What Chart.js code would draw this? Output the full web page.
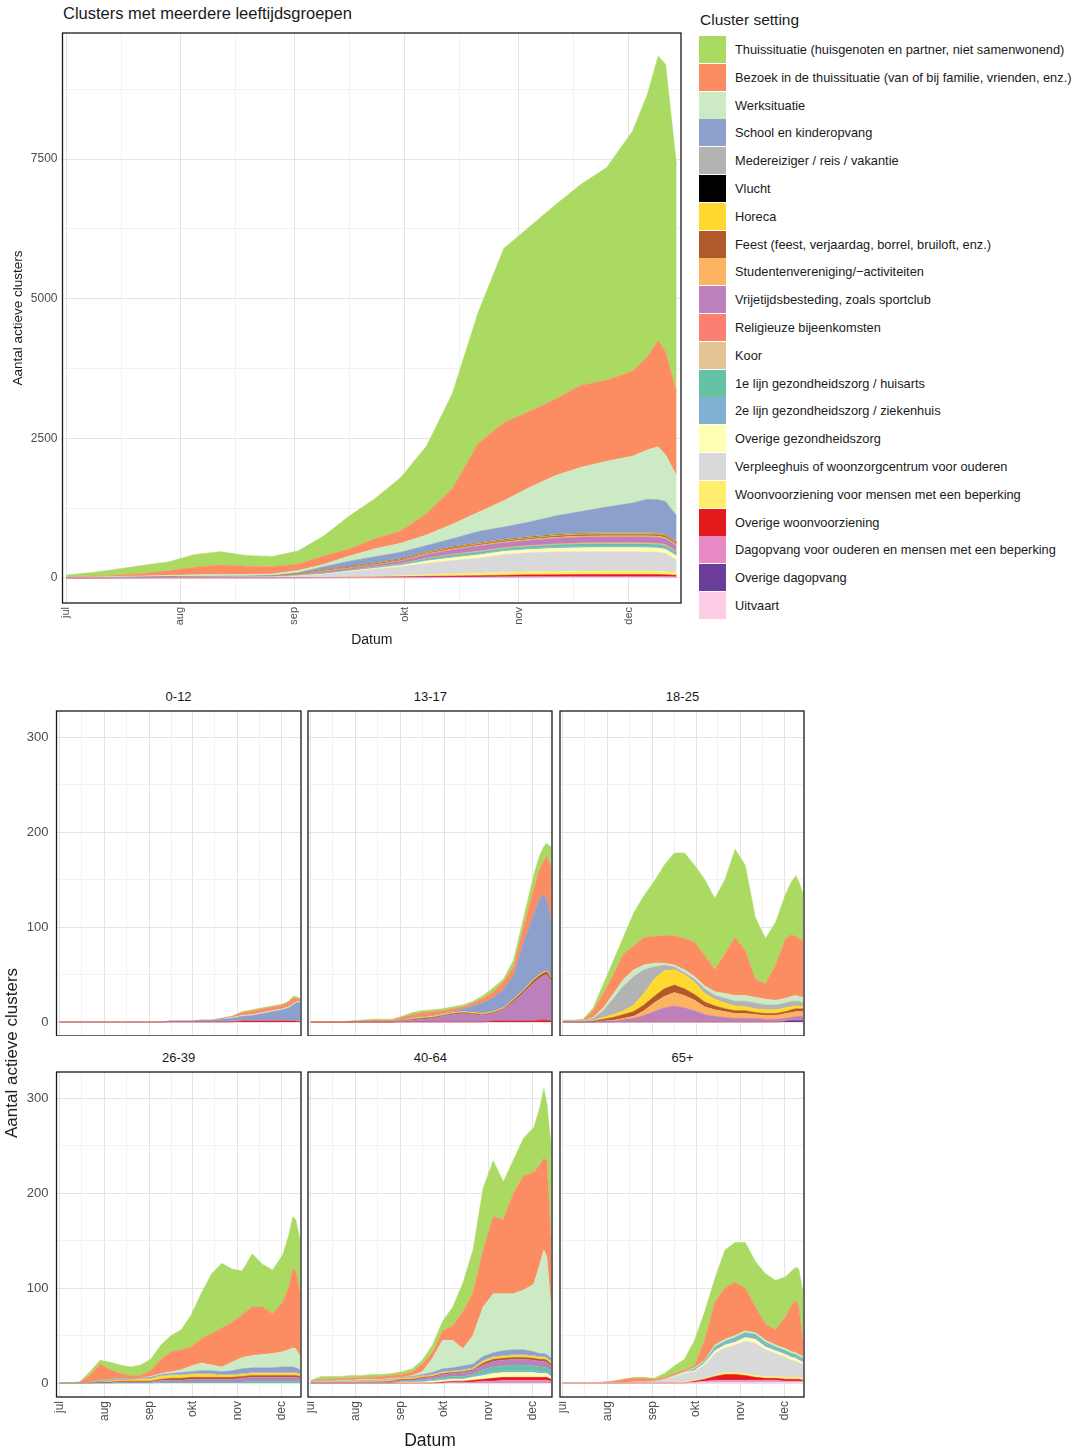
<!DOCTYPE html>
<html lang="nl">
<head>
<meta charset="utf-8">
<title>Clusters met meerdere leeftijdsgroepen</title>
<script src="https://cdn.jsdelivr.net/npm/chart.js@4.4.1/dist/chart.umd.min.js"></script>
<style>
html,body{margin:0;padding:0;background:#fff;}
body{width:1077px;height:1449px;position:relative;overflow:hidden;font-family:"Liberation Sans",Arial,sans-serif;color:#1a1a1a;}
.box{position:absolute;}
#title{position:absolute;left:63px;top:4px;font-size:16.5px;white-space:nowrap;}
#legTitle{position:absolute;left:700px;top:11px;font-size:15.5px;white-space:nowrap;}
.legItem{position:absolute;left:699px;height:27px;display:flex;align-items:center;white-space:nowrap;font-size:12.8px;}
.legKey{width:27px;height:27px;margin-right:9px;flex:none;}
.strip{position:absolute;font-size:13px;text-align:center;white-space:nowrap;}
.lbl{position:absolute;white-space:nowrap;font-size:17px;}
</style>
</head>
<body>
<div id="title">Clusters met meerdere leeftijdsgroepen</div>
<div id="legTitle">Cluster setting</div>
<div id="legend"></div>
<div id="panels"></div>
<div class="lbl" id="yTitle2" style="left:12px;top:1053px;transform:translate(-50%,-50%) rotate(-90deg);">Aantal actieve clusters</div>
<div class="lbl" style="left:430px;top:1440px;transform:translate(-50%,-50%);font-size:17.5px;">Datum</div>
<script>
// ---------------- DATA ----------------
// day offsets from 1 July
const days = [0,7,14,21,28,35,42,49,56,63,70,77,84,91,98,105,112,119,126,133,140,147,154,158,161,163,166];
const monthTicks = [0,31,62,92,123,153];
const monthLabels = ['jul','aug','sep','okt','nov','dec'];
const midMonthTicks = [15,46,77,107,138];
const yTicksTop = [0,2500,5000,7500];
const yMinorTop = [1250,3750,6250,8750];
const yTicksPanel = [0,100,200,300];
const yMinorPanel = [50,150,250];
const ageGroups = ['0-12','13-17','18-25','26-39','40-64','65+'];

const settingNames = [
  'Thuissituatie (huisgenoten en partner, niet samenwonend)',
  'Bezoek in de thuissituatie (van of bij familie, vrienden, enz.)',
  'Werksituatie',
  'School en kinderopvang',
  'Medereiziger / reis / vakantie',
  'Vlucht',
  'Horeca',
  'Feest (feest, verjaardag, borrel, bruiloft, enz.)',
  'Studentenvereniging/\u2212activiteiten',
  'Vrijetijdsbesteding, zoals sportclub',
  'Religieuze bijeenkomsten',
  'Koor',
  '1e lijn gezondheidszorg / huisarts',
  '2e lijn gezondheidszorg / ziekenhuis',
  'Overige gezondheidszorg',
  'Verpleeghuis of woonzorgcentrum voor ouderen',
  'Woonvoorziening voor mensen met een beperking',
  'Overige woonvoorziening',
  'Dagopvang voor ouderen en mensen met een beperking',
  'Overige dagopvang',
  'Uitvaart'
];
const settingColors = ['#abda62','#fc8d62','#ccebc5','#8da0cb','#b3b3b3','#000000','#ffd92f','#b15928','#fdb462','#bc80bd','#fb8072','#e5c494','#66c2a5','#80b1d3','#ffffb3','#d9d9d9','#ffed6f','#e31a1c','#e78ac3','#6a3d9a','#fccde5'];

// ---- all age groups together ----
const allThuis       = [35,65,110,145,160,230,240,190,185,235,360,590,720,960,1210,1700,2350,3120,3310,3480,3600,3810,4300,4700,5100,5150,4070];
const allBezoek      = [7,15,25,45,85,135,170,150,130,115,150,130,180,220,380,640,1230,1400,1360,1370,1470,1450,1520,1660,1900,1850,1490];
const allWerk        = [4,8,14,20,24,29,31,28,30,40,40,90,140,160,190,260,340,470,620,720,790,820,840,880,950,830,720];
const allSchool      = [1,1,1,1,1,1,1,2,5,10,50,90,110,115,110,140,200,220,260,330,385,460,530,600,595,590,460];
const allMedereiziger= [1,2,3,4,5,6,6,5,5,6,8,8,8,9,10,11,12,12,12,13,13,13,13,13,13,13,12];
const allVlucht      = [0,0,0,0,1,1,1,1,1,1,1,1,1,2,2,3,3,3,3,3,3,3,3,3,3,3,3];
const allHoreca      = [0,1,1,2,3,3,3,3,3,5,9,10,10,10,11,12,12,13,14,15,16,16,16,16,16,16,15];
const allFeest       = [0,1,1,1,2,2,3,3,3,6,10,10,10,11,14,16,18,18,20,22,23,24,24,24,24,24,23];
const allStudenten   = [0,0,0,0,0,0,0,0,1,5,10,10,9,10,13,15,16,16,17,19,20,20,20,21,21,21,20];
const allVrijetijd   = [0,0,1,1,1,2,2,3,3,12,25,30,34,45,65,77,86,83,88,95,100,102,102,104,104,102,100];
const allReligie     = [0,0,0,0,0,0,0,0,0,1,2,3,4,5,8,10,11,11,12,13,14,14,14,14,14,14,13];
const allKoor        = [0,0,0,0,0,0,0,0,0,1,2,2,3,4,6,7,8,8,9,9,10,10,10,10,10,10,10];
const all1eLijn      = [0,0,0,0,1,1,1,1,1,4,8,9,11,16,24,30,34,33,36,38,40,41,41,42,42,41,40];
const all2eLijn      = [0,0,0,1,1,1,1,1,1,3,5,6,7,10,16,18,20,18,20,23,25,25,25,25,25,25,24];
const allOvGez       = [1,0,1,1,0,1,1,1,2,6,10,11,13,23,41,51,60,55,59,65,71,72,72,73,73,71,70];
const allVerpleeg    = [0,1,2,2,3,4,5,7,9,22,48,90,130,160,205,240,265,320,340,347,350,348,348,343,340,325,225];
const allWoon        = [1,1,1,1,1,2,2,2,3,4,5,9,14,20,28,37,45,51,56,60,61,62,62,62,61,59,49];
const allOvWoon      = [0,0,0,1,1,1,2,2,2,3,4,6,9,11,15,19,24,28,31,33,34,35,35,35,34,33,28];
const allDagopvang   = [0,0,0,0,1,1,1,1,1,1,2,3,4,5,6,7,8,10,11,12,12,12,12,12,12,11,9];
const allOvDagopvang = [0,0,0,0,0,0,0,0,0,0,0,1,1,1,2,2,2,3,3,3,3,3,3,3,3,3,2];
const allUitvaart    = [0,0,0,0,0,0,0,0,0,0,1,1,2,3,4,5,6,8,9,10,10,10,10,10,10,9,7];

// ---- age 0-12 ----
const g012Thuis    = [0,0,0,0,0,0,0,0,0,0,0,0,0,0,0,0,0,0,1,1,1,1,1,1,2,2,1];
const g012Bezoek   = [0,0,0,0,0,0,0,0,0,0,0,0,0,0,0,0,1,1,3,4,4,4,4,5,6,4,2];
const g012Werk     = [0,0,0,0,0,0,0,0,0,0,0,0,0,0,0,0,0,1,1,1,1,1,1,1,1,1,1];
const g012School   = [0,0,0,0,0,0,0,0,0,0,0,0,0,0,1,1,2,3,4,5,7,9,11,13,16,18,20];
const g012Vrij     = [0,0,0,0,0,0,0,0,0,0,0,1,1,1,1,1,1,1,1,1,1,1,1,1,1,1,1];
const g012OvWoon   = [0,0,0,0,0,0,0,0,0,0,0,0,0,0,0,0,0,0,1,1,1,1,1,1,1,1,0];

// ---- age 13-17 ----
const g1317Thuis   = [0,0,0,0,0,1,1,1,1,1,2,2,2,2,2,2,2,3,4,3,7,10,15,15,15,13,21];
const g1317Bezoek  = [0,0,0,0,1,0,1,1,1,3,3,4,4,3,3,2,3,5,6,8,9,16,27,30,35,46,56];
const g1317School  = [0,0,0,0,0,1,1,1,1,1,1,1,1,1,1,3,7,11,15,19,25,50,68,80,82,75,60];
const g1317Horeca  = [0,0,0,0,0,0,0,0,0,0,1,1,1,1,1,1,1,1,1,1,1,1,1,1,1,1,1];
const g1317Feest   = [0,0,0,0,0,0,0,0,0,0,1,1,1,1,1,1,1,1,1,1,2,2,3,3,3,3,3];
const g1317Vrij    = [0,0,0,0,0,0,0,0,0,1,2,3,4,6,8,9,8,7,8,12,20,30,40,44,47,48,42];
const g1317OvWoon  = [0,0,0,0,0,0,0,0,0,0,0,0,0,0,0,0,0,0,1,1,1,1,1,2,2,2,1];

// ---- age 18-25 ----
const g1825Thuis   = [1,1,1,3,10,15,18,35,44,58,74,87,90,81,80,75,78,93,90,65,48,45,47,56,64,60,49];
const g1825Bezoek  = [0,0,1,7,15,20,27,25,29,28,29,31,33,36,32,23,42,61,47,19,16,37,63,65,62,61,60];
const g1825Werk    = [0,0,0,1,3,5,7,7,5,4,2,2,3,3,3,4,5,6,6,6,6,5,5,5,6,5,6];
const g1825Mede    = [1,1,1,2,7,17,26,30,25,13,6,3,2,3,5,4,5,5,6,6,5,5,5,6,5,5,4];
const g1825Horeca  = [0,0,0,1,2,3,4,7,12,18,19,16,15,13,9,7,6,5,4,4,4,4,4,3,3,3,2];
const g1825Feest   = [0,0,0,1,2,3,4,5,6,7,8,8,7,6,5,4,3,3,3,2,2,2,2,3,3,3,3];
const g1825Stud    = [0,0,0,0,0,1,1,2,5,9,12,14,13,11,8,7,6,5,5,4,4,4,5,5,5,5,5];
const g1825Vrij    = [0,0,0,0,1,1,2,3,6,10,14,16,14,11,7,5,4,3,3,3,2,2,2,2,3,3,3];
const g1825Relig   = [0,0,0,0,0,0,1,1,1,1,1,1,1,1,1,1,1,1,1,1,1,1,1,1,1,1,1];
const g1825OvDag   = [0,0,0,0,0,0,0,0,0,0,0,0,0,0,0,0,0,0,0,0,0,0,1,2,2,2,2];

// ---- age 26-39 ----
const g2639Thuis   = [0,0,0,4,4,8,9,9,11,12,15,17,21,34,48,63,68,56,46,56,45,46,50,55,55,54,56];
const g2639Bezoek  = [0,0,1,7,17,10,5,4,3,6,15,21,21,20,26,33,41,42,45,51,50,42,52,65,83,82,66];
const g2639Werk    = [0,0,0,0,0,0,0,0,0,1,1,2,3,6,8,6,5,9,12,13,14,15,16,18,20,20,14];
const g2639School  = [0,0,0,0,0,0,0,0,0,1,1,1,2,2,3,3,3,4,5,5,5,5,6,6,6,5,4];
const g2639Mede    = [0,0,0,1,2,2,2,1,1,1,1,1,1,1,1,1,1,1,1,1,1,1,1,1,1,1,1];
const g2639Horeca  = [0,0,0,0,0,1,1,1,2,2,3,3,3,3,3,3,2,2,2,2,2,2,2,2,2,2,2];
const g2639Feest   = [0,0,0,0,1,1,1,1,1,1,1,2,2,2,2,2,2,2,2,2,2,2,2,2,2,2,2];
const g2639Vrij    = [0,0,0,0,0,0,1,1,1,1,2,2,2,3,3,3,3,3,4,4,4,4,4,4,4,4,3];
const g26391eLijn  = [0,0,0,0,0,0,0,0,0,0,1,1,1,1,1,1,1,1,1,2,2,2,2,2,2,2,2];

// ---- age 40-64 ----
const g4064Thuis   = [1,3,3,2,3,2,3,2,2,3,3,4,8,10,20,30,45,65,59,40,35,40,47,60,73,61,100];
const g4064Bezoek  = [1,2,2,2,2,2,2,3,3,3,4,8,6,10,15,39,45,60,81,78,106,120,118,105,97,101,70];
const g4064Werk    = [0,1,1,1,1,1,1,1,1,0,1,3,15,30,29,18,30,52,62,60,59,63,71,93,109,103,53];
const g4064School  = [0,0,0,0,0,0,0,0,0,0,1,1,2,3,3,4,4,4,4,5,5,5,4,3,3,3,3];
const g4064Mede    = [1,1,1,1,1,1,1,1,1,1,1,1,1,1,1,1,1,1,1,1,1,1,1,1,1,1,1];
const g4064Horeca  = [0,0,0,1,1,1,1,1,1,1,1,1,1,1,1,1,1,2,2,2,2,2,2,2,2,2,2];
const g4064Feest   = [0,0,0,0,0,0,0,0,1,1,1,1,1,1,1,1,1,2,2,2,2,2,2,2,2,2,2];
const g4064Vrij    = [0,0,0,0,0,1,1,1,1,1,1,2,2,3,3,4,4,5,6,6,6,6,6,6,6,6,5];
const g40641eLijn  = [0,0,0,0,0,0,0,0,0,1,1,1,1,2,2,2,2,4,5,5,6,6,5,5,5,4,4];
const g40642eLijn  = [0,0,0,0,0,0,0,0,0,0,0,1,1,1,1,1,1,2,2,2,2,2,2,2,2,2,2];
const g4064OvGez   = [0,0,0,0,0,0,0,0,0,1,1,1,2,2,2,2,3,4,5,5,5,5,5,4,4,4,3];
const g4064OvWoon  = [0,0,0,0,0,0,0,0,0,0,0,0,0,1,1,1,2,2,3,3,3,3,3,3,3,3,2];
const g4064Dag     = [0,0,0,0,0,0,0,0,0,0,0,0,0,0,1,1,1,2,2,3,3,3,3,3,3,3,2];

// ---- age 65+ ----
const g65Thuis     = [0,0,0,0,0,0,0,1,1,1,4,8,11,27,30,25,40,42,48,48,53,52,42,36,35,40,53];
const g65Bezoek    = [0,0,0,0,1,2,4,4,4,2,2,2,2,2,21,45,54,56,45,27,17,16,34,49,55,50,14];
const g65Werk      = [0,0,0,0,0,0,0,0,0,1,1,1,1,1,1,2,2,2,2,2,2,2,2,2,2,2,2];
const g651eLijn    = [0,0,0,0,0,0,0,0,0,0,0,0,0,1,1,2,2,2,2,2,2,2,2,2,2,2,2];
const g652eLijn    = [0,0,0,0,0,0,0,0,0,0,0,0,0,1,1,2,2,3,3,3,3,2,2,2,2,2,2];
const g65OvGez     = [0,0,0,0,0,0,0,0,0,0,0,1,1,1,2,3,3,3,4,4,3,3,3,3,3,3,2];
const g65Verpleeg  = [0,0,0,0,0,0,0,1,1,1,3,6,9,9,14,23,26,29,34,34,28,24,21,18,17,15,16];
const g65Woon      = [0,0,0,0,0,0,0,0,0,0,0,0,1,1,1,1,2,2,2,2,2,2,2,2,2,2,1];
const g65OvWoon    = [0,0,0,0,0,0,0,0,0,0,0,0,0,1,2,4,6,6,5,3,2,2,2,2,2,2,1];
const g65Dag       = [0,0,0,0,0,0,0,0,0,0,0,0,0,1,1,2,2,2,2,2,2,2,1,1,1,1,1];
const g65Uitvaart  = [0,0,0,0,0,0,0,0,0,0,0,0,0,0,1,1,1,1,1,1,1,1,1,1,1,1,1];

// series tables: [setting index, values]
const allSeries = [
  [0,allThuis],[1,allBezoek],[2,allWerk],[3,allSchool],[4,allMedereiziger],[5,allVlucht],[6,allHoreca],
  [7,allFeest],[8,allStudenten],[9,allVrijetijd],[10,allReligie],[11,allKoor],[12,all1eLijn],[13,all2eLijn],
  [14,allOvGez],[15,allVerpleeg],[16,allWoon],[17,allOvWoon],[18,allDagopvang],[19,allOvDagopvang],[20,allUitvaart]
];
const panelSeries = [
  [[0,g012Thuis],[1,g012Bezoek],[2,g012Werk],[3,g012School],[9,g012Vrij],[17,g012OvWoon]],
  [[0,g1317Thuis],[1,g1317Bezoek],[3,g1317School],[6,g1317Horeca],[7,g1317Feest],[9,g1317Vrij],[17,g1317OvWoon]],
  [[0,g1825Thuis],[1,g1825Bezoek],[2,g1825Werk],[4,g1825Mede],[6,g1825Horeca],[7,g1825Feest],[8,g1825Stud],[9,g1825Vrij],[10,g1825Relig],[19,g1825OvDag]],
  [[0,g2639Thuis],[1,g2639Bezoek],[2,g2639Werk],[3,g2639School],[4,g2639Mede],[6,g2639Horeca],[7,g2639Feest],[9,g2639Vrij],[12,g26391eLijn]],
  [[0,g4064Thuis],[1,g4064Bezoek],[2,g4064Werk],[3,g4064School],[4,g4064Mede],[6,g4064Horeca],[7,g4064Feest],[9,g4064Vrij],[12,g40641eLijn],[13,g40642eLijn],[14,g4064OvGez],[17,g4064OvWoon],[18,g4064Dag]],
  [[0,g65Thuis],[1,g65Bezoek],[2,g65Werk],[12,g651eLijn],[13,g652eLijn],[14,g65OvGez],[15,g65Verpleeg],[16,g65Woon],[17,g65OvWoon],[18,g65Dag],[20,g65Uitvaart]]
];

// ---------------- RENDERING ----------------
const FONT = '"Liberation Sans", Arial, sans-serif';
const MAJOR = '#e4e4e4', MINOR = '#f2f2f2', TICKC = '#4d4d4d';
const xTickVals = monthTicks.concat(midMonthTicks).sort((a,b)=>a-b);

// legend
const leg = document.getElementById('legend');
settingNames.forEach((name,i)=>{
  const it = document.createElement('div');
  it.className='legItem';
  it.style.top = (36 + i*27.8) + 'px';
  const k = document.createElement('div');
  k.className='legKey'; k.style.background = settingColors[i];
  const t = document.createElement('span'); t.textContent = name;
  it.appendChild(k); it.appendChild(t); leg.appendChild(it);
});

const frame = {
  id:'frame',
  afterDatasetsDraw(chart){
    const {ctx, chartArea:a} = chart;
    ctx.save(); ctx.strokeStyle='#1a1a1a'; ctx.lineWidth=1.3;
    ctx.strokeRect(a.left, a.top, a.right-a.left, a.bottom-a.top);
    ctx.restore();
  }
};

function makeDatasets(series){
  const sorted = series.slice().sort((a,b)=>b[0]-a[0]); // bottom of stack first
  return sorted.map(([idx, vals], i)=>({
    label: settingNames[idx],
    data: days.map((d,k)=>({x:d, y:vals[k]})),
    backgroundColor: settingColors[idx],
    borderColor: settingColors[idx],
    borderWidth: 0.5,
    pointRadius: 0,
    fill: i===0 ? 'origin' : '-1',
    tension: 0
  }));
}

function noPad(s){ s.paddingTop = 0; s.paddingBottom = 0; s.paddingLeft = 0; s.paddingRight = 0; }

function xScale(min, max, showLabels, fontSize, height, title){
  return {
    type:'linear', min, max,
    afterBuildTicks: s => { s.ticks = xTickVals.map(v=>({value:v})); },
    afterFit: s => { s.height = height; noPad(s); },
    grid:{ color: c => (c.tick && monthTicks.includes(c.tick.value)) ? MAJOR : MINOR, drawTicks:false, lineWidth:1 },
    border:{ display:false },
    ticks:{ display:showLabels, autoSkip:false, minRotation:90, maxRotation:90, padding:4, color:TICKC,
      font:{size:fontSize, family:FONT},
      callback: v => { const i = monthTicks.indexOf(v); return i>=0 ? monthLabels[i] : ''; } },
    title: title || {display:false}
  };
}
function yScale(min, max, majors, minors, showLabels, fontSize, width, pad, title){
  const all = majors.concat(minors).sort((a,b)=>a-b);
  return {
    stacked:true, min, max,
    afterBuildTicks: s => { s.ticks = all.map(v=>({value:v})); },
    afterFit: s => { s.width = width; noPad(s); },
    grid:{ color: c => (c.tick && majors.includes(c.tick.value)) ? MAJOR : MINOR, drawTicks:false, lineWidth:1 },
    border:{ display:false },
    ticks:{ display:showLabels, padding:pad, color:TICKC, font:{size:fontSize, family:FONT},
      callback: v => majors.includes(v) ? String(v) : '' },
    title: title || {display:false}
  };
}

function makeCanvas(parent, left, top, w, h){
  const d = document.createElement('div');
  d.className='box'; d.style.left=left+'px'; d.style.top=top+'px';
  d.style.width=w+'px'; d.style.height=h+'px';
  const c = document.createElement('canvas');
  c.width = Math.round(w); c.height = Math.round(h);
  c.style.width=Math.round(w)+'px'; c.style.height=Math.round(h)+'px';
  d.appendChild(c); parent.appendChild(d);
  return c;
}

const baseOpts = {
  responsive:false, animation:false, events:[],
  plugins:{ legend:{display:false}, tooltip:{enabled:false}, title:{display:false} },
  elements:{ line:{ borderJoinStyle:'round' } }
};

// top chart
(function(){
  const c = makeCanvas(document.body, 0, 32, 682, 628);
  new Chart(c, {
    type:'line',
    data:{ datasets: makeDatasets(allSeries) },
    options: Object.assign({}, baseOpts, {
      layout:{ padding:{top:1, right:1, left:0, bottom:0} },
      scales:{
        x: xScale(-1, 167.2, true, 11, 57, {display:true, text:'Datum', color:'#1a1a1a', font:{size:14, family:FONT}, padding:{top:0,bottom:11.6}}),
        y: yScale(-450, 9760, yTicksTop, yMinorTop, true, 12, 62.5, 5, {display:true, text:'Aantal actieve clusters', color:'#1a1a1a', font:{size:13.5, family:FONT}, padding:{top:10,bottom:0}})
      }
    }),
    plugins:[frame]
  });
})();

// small multiples
const colLefts = [56.5, 308.3, 560.4];
const rowTops = [711, 1072];
const boxW = 244.2, boxH = 325;
const panelsEl = document.getElementById('panels');
ageGroups.forEach((g, p)=>{
  const col = p % 3, row = Math.floor(p/3);
  const yW = col===0 ? 55.5 : 0;
  const xH = row===1 ? 35 : 0;
  const left = colLefts[col] - 1 - yW;
  const top = rowTops[row] - 1;
  const w = 1 + yW + boxW + 1;
  const h = 1 + boxH + xH;
  const c = makeCanvas(panelsEl, left, top, w, h);
  new Chart(c, {
    type:'line',
    data:{ datasets: makeDatasets(panelSeries[p]) },
    options: Object.assign({}, baseOpts, {
      layout:{ padding:{top:1, right:1, left:1, bottom:0} },
      scales:{
        x: xScale(-2, 166.6, row===1, 12, xH),
        y: yScale(-14.7, 327.4, yTicksPanel, yMinorPanel, col===0, 13, yW, 8)
      }
    }),
    plugins:[frame]
  });
  const s = document.createElement('div');
  s.className='strip'; s.textContent = g;
  s.style.left = colLefts[col]+'px'; s.style.width = boxW+'px';
  s.style.top = (rowTops[row] - 22) + 'px';
  panelsEl.appendChild(s);
});
</script>
</body>
</html>
